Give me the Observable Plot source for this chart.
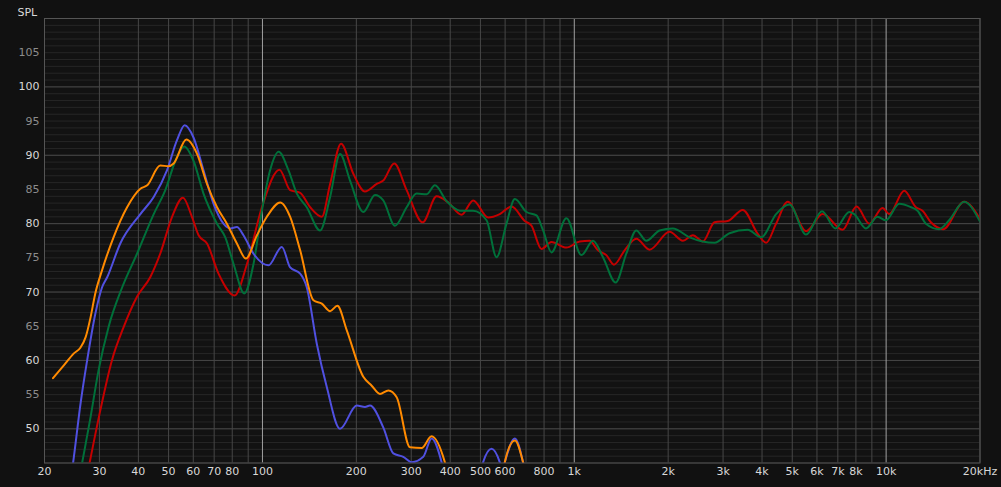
<!DOCTYPE html>
<html><head><meta charset="utf-8">
<script src="https://cdn.jsdelivr.net/npm/d3@7"></script>
<script src="https://cdn.jsdelivr.net/npm/@observablehq/plot@0.6"></script>
<style>
html,body{margin:0;padding:0;background:#111111;overflow:hidden;}
</style></head><body><div id="chart"></div>
<script>
// [frequency Hz, SPL dB]
const bluePts = [[24.0,41.0],[24.7,45.0],[26.1,53.7],[27.4,60.0],[29.1,66.8],[30.6,70.7],[31.8,72.2],[35.0,77.1],[40.6,81.4],[44.8,83.9],[49.4,87.8],[53.2,92.2],[56.3,94.4],[60.1,92.6],[64.7,87.8],[69.7,82.9],[75.0,80.0],[78.8,79.3],[82.8,79.5],[86.9,78.3],[93.6,75.6],[104.5,73.9],[115.4,76.6],[122.7,73.6],[132.1,72.7],[138.7,70.7],[149.4,62.4],[160.8,56.1],[177.3,50.0],[200.6,53.4],[213.2,53.2],[221.2,53.4],[244,50.2],[262.8,46.4],[282.9,45.9],[301,45.1],[327.9,45.9],[348.6,48.6],[375.4,45.1],[390,41.7],[450,38],[495,42],[510,45.1],[542.9,47.1],[577,45.1],[588,43.8],[598.6,45.1],[644.7,48.6],[685,45.1],[720,40]];
const orangePts = [[21.3,57.4],[23.1,59.3],[24.8,61.0],[26.1,61.9],[27.1,63.4],[28.1,66.3],[29.1,69.8],[30.6,73.2],[33.3,78.0],[36.8,82.4],[40.6,85.1],[42.7,85.6],[47.0,88.5],[50.0,88.4],[51.9,88.8],[57.0,92.3],[61.7,90.2],[66.4,85.8],[71.5,82.4],[76.9,80.0],[82.8,77.1],[88.5,74.9],[96.0,78.3],[103.3,81.0],[114,83.1],[122.7,81.0],[132.1,76.1],[145.7,68.8],[155,68.3],[164.8,67.2],[173.9,68.0],[186.4,64.4],[210.6,57.6],[224,56.3],[238.2,55.1],[253.3,55.6],[269.4,54.6],[297.2,47.3],[323.9,47.2],[348.6,48.9],[384.6,45.1],[400,42],[520,38],[585,42],[598.6,45.1],[644.7,48.3],[685,45.1],[720,40]];
const greenPts = [[25.5,41.3],[26.4,45.0],[28.1,51.7],[29.8,58.5],[32.1,64.9],[35.5,70.7],[39.6,75.6],[44.8,81.4],[48.8,84.9],[52.6,89.2],[56.1,91.3],[60.1,89.2],[64.7,84.4],[71.5,80.0],[76.0,78.0],[80.8,74.1],[87.4,69.8],[93.6,74.1],[99.6,81.9],[105.8,87.8],[112.7,90.5],[121.2,87.8],[128.9,84.4],[138.7,82.4],[153,79.0],[164.8,83.9],[177.3,90.2],[190.9,86.3],[210.6,81.7],[229.6,84.2],[244,83.4],[266,79.7],[290,82.4],[312.2,84.4],[336.2,84.3],[357.3,85.6],[389.5,83.3],[429.6,81.9],[473.8,81.9],[523.2,80.5],[563.2,75.1],[606.2,80.0],[644.6,83.6],[702.6,81.7],[756.4,81.2],[794.3,79.0],[844.8,75.8],[943.5,80.8],[1054,75.4],[1148,77.5],[1236,75.1],[1357,71.4],[1468,75.6],[1581,79.0],[1702,77.5],[1877,79.0],[2070,79.3],[2342,78.0],[2816,77.2],[3146,78.6],[3598,79.1],[3973,78.0],[4438,81.4],[4897,82.8],[5536,78.4],[6229,81.8],[6872,79.3],[7617,81.7],[7902,81.4],[8617,79.3],[9388,81.0],[9984,80.5],[11016,82.9],[12010,82.4],[12610,81.9],[13414,80.0],[14792,79.2],[15924,80.5],[17784,83.2],[20000,80.3]];
const redPts = [[26.9,41.3],[27.9,45.0],[30.2,52.7],[32.9,60.0],[35.9,64.9],[39.6,69.3],[43.7,72.2],[47.0,75.6],[51.3,81.0],[55.6,83.8],[59.4,81.0],[62.4,78.3],[66.4,77.1],[72.3,72.7],[81.4,69.5],[89.2,74.1],[99.6,82.4],[113.4,87.9],[122.7,84.9],[132.1,84.5],[142.2,82.4],[155,81.0],[164.8,85.8],[178.7,91.7],[195.6,87.3],[213.2,84.7],[232.5,85.8],[244,86.3],[264.6,88.8],[290,84.9],[326.4,80.2],[361.8,84.0],[394.2,83.1],[435.2,81.3],[473.8,83.4],[529.4,80.9],[577,81.4],[629,82.5],[693.6,80.4],[728.8,79.7],[784.8,76.3],[844.8,77.3],[943.5,76.5],[1041,77.4],[1121,77.5],[1191,76.1],[1267,75.4],[1340,74.0],[1450,76.1],[1581,77.8],[1743,76.2],[2021,78.8],[2229,77.5],[2400,78.3],[2583,77.4],[2816,80.2],[3106,80.4],[3470,82.0],[3876,78.5],[4123,77.2],[4438,80.0],[4835,83.2],[5536,78.9],[6259,81.4],[7250,79.1],[8040,82.5],[8832,80.0],[9740,82.3],[10234,81.4],[11429,84.8],[12457,82.4],[13081,81.9],[13916,80.2],[15239,79.2],[17784,83.2],[20000,80.7]];

const xTicks = [20,30,40,50,60,70,80,100,200,300,400,500,600,800,1000,2000,3000,4000,5000,6000,7000,8000,10000,20000];
const gridFreqs = [20,30,40,50,60,70,80,90,200,300,400,500,600,700,800,900,2000,3000,4000,5000,6000,7000,8000,9000,20000];
const majorFreqs = [100,1000,10000];
const yBright = [50,60,70,80,90,100];
const yDim = [55,65,75,85,95,105];
const yMajorGrid = [50,60,70,80,90,100,110];
const yMinorGrid = d3.range(45,111);

const fmtX = d => d === 20000 ? "20kHz" : d >= 1000 ? (d/1000) + "k" : String(d);

const lineOpts = (color) => ({x: d => d[0], y: d => d[1], stroke: color, strokeWidth: 2, curve: "monotone-x", clip: true});

const chart = Plot.plot({
  width: 1001, height: 487,
  marginLeft: 44, marginRight: 21.5, marginTop: 18, marginBottom: 24.5,
  style: {background: "#111111", color: "#d8d8d8", fontFamily: "'DejaVu Sans', sans-serif", fontSize: "11px"},
  x: {type: "log", domain: [20, 20000], axis: null},
  y: {domain: [45, 110], axis: null},
  marks: [
    Plot.frame({fill: "#121212", stroke: null}),
    Plot.ruleY(yMinorGrid, {stroke: "#262626"}),
    Plot.ruleY(yMajorGrid, {stroke: "#474747"}),
    Plot.ruleX(gridFreqs, {stroke: "#474747"}),
    Plot.ruleX(majorFreqs, {stroke: "#a0a0a0"}),
    Plot.frame({stroke: "#555555"}),
    Plot.line(redPts, lineOpts("#c40000")),
    Plot.line(greenPts, lineOpts("#00703a")),
    Plot.line(bluePts, lineOpts("#5050e0")),
    Plot.line(orangePts, lineOpts("#ff8a00")),
    Plot.text(xTicks, {x: d => d, frameAnchor: "bottom", dy: 12, text: fmtX, fill: "#d8d8d8"}),
    Plot.text(yBright, {y: d => d, frameAnchor: "left", dx: -5, textAnchor: "end", text: d => String(d), fill: "#d8d8d8"}),
    Plot.text(yDim, {y: d => d, frameAnchor: "left", dx: -5, textAnchor: "end", text: d => String(d), fill: "#8c8c8c"}),
    Plot.text(["SPL"], {text: d => d, frameAnchor: "top-left", dx: -27, dy: -10.5, textAnchor: "start", fill: "#d8d8d8"})
  ]
});
document.getElementById("chart").appendChild(chart);
</script>
</body></html>
